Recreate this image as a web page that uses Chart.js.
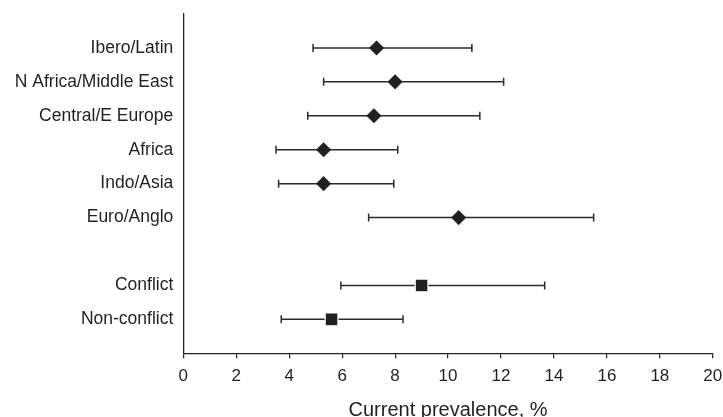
<!DOCTYPE html>
<html>
<head>
<meta charset="utf-8">
<script src="https://cdn.jsdelivr.net/npm/chart.js@4/dist/chart.umd.min.js"></script>
<style>
  html, body { margin: 0; padding: 0; background: #ffffff; }
  #c { display: block; }
</style>
</head>
<body>
<canvas id="c" width="723" height="417"></canvas>
<script>
// ---- Data ----
const rowLabels = ['Ibero/Latin', 'N Africa/Middle East', 'Central/E Europe', 'Africa', 'Indo/Asia', 'Euro/Anglo', '', 'Conflict', 'Non-conflict'];

const regions   = ['Ibero/Latin', 'N Africa/Middle East', 'Central/E Europe', 'Africa', 'Indo/Asia', 'Euro/Anglo'];
const regionEst = [7.3, 8.0, 7.2, 5.3, 5.3, 10.4];
const regionLo  = [4.9, 5.3, 4.7, 3.5, 3.6, 7.0];
const regionHi  = [10.9, 12.1, 11.2, 8.1, 7.95, 15.5];

const groups   = ['Conflict', 'Non-conflict'];
const groupEst = [9.0, 5.6];
const groupLo  = [5.95, 3.7];
const groupHi  = [13.65, 8.3];

const xTicks = [0, 2, 4, 6, 8, 10, 12, 14, 16, 18, 20];
const xTitle = 'Current prevalence, %';

// ---- Build datasets ----
const rowOf = name => rowLabels.indexOf(name) + 1;
const regionPts = regions.map((n, i) => ({ x: regionEst[i], y: rowOf(n), lo: regionLo[i], hi: regionHi[i] }));
const groupPts  = groups.map((n, i) => ({ x: groupEst[i], y: rowOf(n), lo: groupLo[i], hi: groupHi[i] }));

const INK = '#231f20';
const FONT = "'Liberation Sans', Arial, Helvetica, sans-serif";

const whiskers = {
  id: 'whiskers',
  beforeDatasetsDraw(chart) {
    const xs = chart.scales.x, ys = chart.scales.y, ctx = chart.ctx;
    ctx.save();
    ctx.strokeStyle = '#2a2a2a';
    ctx.lineWidth = 1.5;
    chart.data.datasets.forEach(ds => {
      ds.data.forEach(p => {
        const y = ys.getPixelForValue(p.y);
        const x1 = xs.getPixelForValue(p.lo), x2 = xs.getPixelForValue(p.hi);
        ctx.beginPath();
        ctx.moveTo(x1, y); ctx.lineTo(x2, y);
        ctx.moveTo(x1, y - 4); ctx.lineTo(x1, y + 4);
        ctx.moveTo(x2, y - 4); ctx.lineTo(x2, y + 4);
        ctx.stroke();
      });
    });
    ctx.restore();
  }
};

new Chart(document.getElementById('c'), {
  type: 'scatter',
  data: {
    datasets: [
      {
        label: 'Regions',
        data: regionPts,
        pointStyle: 'rectRot',
        pointRadius: 7.3,
        pointHoverRadius: 7.3,
        backgroundColor: INK,
        borderColor: INK,
        borderWidth: 0.5
      },
      {
        label: 'Conflict status',
        data: groupPts,
        pointStyle: 'rect',
        pointRadius: 9,
        pointHoverRadius: 9,
        backgroundColor: INK,
        borderColor: '#ffffff',
        borderWidth: 1.2
      }
    ]
  },
  plugins: [whiskers],
  options: {
    responsive: false,
    animation: false,
    layout: { padding: { top: 14, right: 9.7, bottom: 0, left: 0 } },
    plugins: {
      legend: { display: false },
      tooltip: { enabled: false },
      title: { display: false }
    },
    scales: {
      x: {
        type: 'linear',
        min: 0,
        max: 20,
        afterBuildTicks: s => { s.ticks = xTicks.map(v => ({ value: v })); },
        afterFit: s => { s.height = 63.7; s.paddingLeft = 0; s.paddingRight = 0; },
        grid: { display: true, drawOnChartArea: false, drawTicks: true, tickLength: 5, color: '#222', lineWidth: 1.2 },
        border: { display: true, color: '#222', width: 1.3 },
        ticks: { color: INK, padding: 8, font: { family: FONT, size: 17 }, maxRotation: 0 },
        title: { display: true, text: xTitle, color: INK, font: { family: FONT, size: 20, lineHeight: 0.8 }, padding: { top: 0, bottom: -1 } }
      },
      y: {
        type: 'linear',
        min: 0,
        max: 10,
        reverse: true,
        afterBuildTicks: s => { s.ticks = rowLabels.map((l, i) => ({ value: i + 1 })); },
        afterFit: s => { s.width = 183.3; s.paddingTop = 0; s.paddingBottom = 0; },
        grid: { display: false, drawTicks: false },
        border: { display: true, color: '#222', width: 1.3 },
        ticks: {
          color: INK,
          padding: 10,
          font: { family: FONT, size: 17.5 },
          callback: v => rowLabels[v - 1] || ''
        }
      }
    }
  }
});
</script>
</body>
</html>
